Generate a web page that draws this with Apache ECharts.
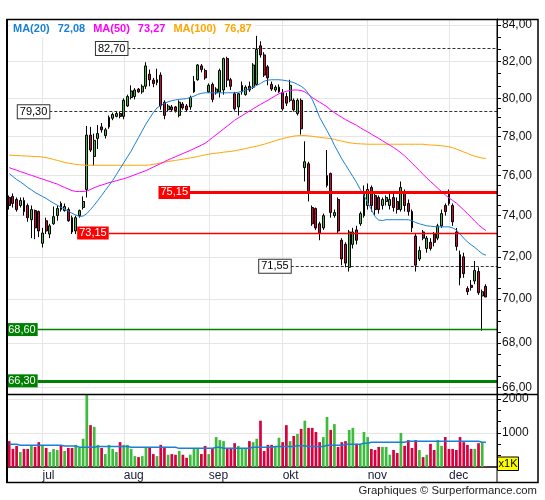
<!DOCTYPE html>
<html>
<head>
<meta charset="utf-8">
<script src="https://cdn.jsdelivr.net/npm/echarts@6/dist/echarts.min.js"></script>
<style>
html,body{margin:0;padding:0;background:#ffffff;}
#chart{width:545px;height:500px;}
</style>
</head>
<body>
<div id="chart"></div>
<script>
// ---------- data ----------
const monthNames = ['jul','aug','sep','okt','nov','dec'];
const monthStartIndex = [9,31,54,74,97,119];
const priceLabelValues = [66,68,70,72,74,76,78,80,82,84];
const priceTickValues = [66,66.5,67,67.5,68,68.5,69,69.5,70,70.5,71,71.5,72,72.5,73,73.5,74,74.5,75,75.5,76,76.5,77,77.5,78,78.5,79,79.5,80,80.667,81.333,82,82.667,83.333,84];
const volumeLabelValues = [1000,2000];
const volumeTickValues = [333,667,1000,1333,1667,2000];
const levelValues = [82.70,79.30,75.15,73.15,71.55,68.60,66.30];

const openPrices = [74.90,74.95,74.80,74.50,74.75,74.50,73.80,74.25,74.20,72.65,
73.75,73.10,73.60,74.00,74.60,74.25,74.30,73.90,73.25,74.00,
74.40,75.30,78.07,76.97,77.90,78.50,78.05,78.50,78.95,79.05,
79.20,79.05,79.60,80.05,80.10,80.50,80.35,80.65,81.30,80.98,
80.85,81.25,79.80,79.40,79.55,79.55,79.10,79.70,79.60,79.55,
80.35,81.00,81.75,81.50,80.35,80.75,80.30,80.35,80.45,82.15,
81.00,80.25,79.55,80.35,80.20,80.65,80.60,80.75,82.85,82.35,
81.70,80.75,80.45,80.35,80.30,80.10,79.90,79.90,79.20,79.90,
76.40,76.60,74.40,74.35,73.60,73.40,75.50,76.10,74.00,74.80,
72.80,72.60,71.50,72.60,73.30,73.60,74.00,74.50,75.40,75.00,
74.90,74.50,74.70,74.50,74.90,74.70,74.30,75.20,74.60,74.20,
73.00,71.90,73.20,72.40,72.70,73.10,72.90,73.50,74.50,75.10,
74.50,73.20,72.10,72.00,70.50,70.65,70.85,71.30,70.15,70.60];
const closePrices = [74.50,74.60,74.30,74.75,74.20,73.90,74.30,73.40,73.25,73.15,
73.25,73.50,73.95,74.35,74.30,74.45,73.75,73.20,73.90,74.25,
74.70,78.07,77.30,77.80,78.15,78.35,78.35,79.00,79.15,79.20,
79.05,79.90,80.10,80.40,80.45,80.35,80.65,81.75,81.00,80.80,
81.00,79.60,79.10,79.60,79.40,79.35,79.80,79.50,79.40,80.05,
80.90,81.80,81.55,81.10,80.70,79.95,80.50,81.50,82.15,80.98,
80.65,79.45,80.25,80.70,80.60,80.45,81.80,82.65,82.35,81.25,
81.10,80.50,80.60,80.60,79.45,79.75,80.70,79.40,79.90,78.40,
76.70,75.20,73.60,73.40,73.15,74.00,76.00,74.15,74.15,73.25,
71.90,71.70,73.20,73.20,72.80,74.10,75.20,75.30,74.50,74.30,
74.30,74.80,74.90,74.80,74.40,74.30,75.40,74.50,74.20,73.40,
71.60,72.30,72.90,72.90,72.40,72.70,73.50,74.10,74.20,74.60,
73.70,72.50,71.00,71.20,70.35,70.55,71.35,70.30,70.35,70.10];
const highPrices = [75.00,75.10,74.90,74.90,74.90,74.60,74.50,74.30,74.25,73.40,
73.90,73.60,74.45,74.50,74.70,74.60,74.40,74.00,74.00,74.30,
74.95,78.55,78.50,78.15,78.60,78.70,78.45,79.10,79.25,79.30,
79.30,80.00,80.20,80.70,80.55,80.55,80.75,81.95,81.55,81.10,
81.60,81.40,79.90,79.70,79.65,79.60,79.90,79.80,79.70,80.15,
81.20,81.85,81.85,81.60,80.80,80.85,80.60,81.60,82.20,82.25,
81.10,80.35,80.30,80.90,80.70,80.90,81.90,83.40,83.10,82.50,
81.80,80.90,80.70,80.75,80.50,80.30,81.00,80.00,80.00,80.00,
77.75,76.70,74.50,74.40,73.70,74.10,77.30,76.15,74.30,74.90,
72.90,72.70,73.30,73.40,73.50,74.20,75.50,75.60,75.50,75.20,
75.00,74.90,75.00,75.10,75.10,74.90,75.70,75.30,74.80,74.30,
73.10,72.50,73.30,73.00,72.90,73.20,73.60,74.30,74.60,75.30,
74.60,73.40,72.30,72.20,70.60,70.90,71.80,71.50,70.45,70.70];
const lowPrices = [74.30,74.40,74.20,74.40,74.00,73.70,72.90,72.85,72.95,72.45,
73.10,72.90,73.55,73.75,74.20,74.20,73.70,73.10,73.10,73.90,
74.30,74.90,77.20,76.50,77.35,78.20,77.90,78.40,78.85,79.00,
78.95,78.90,79.55,79.95,79.95,80.30,80.25,80.50,80.65,80.60,
80.70,79.40,78.90,79.30,79.30,79.25,79.00,79.40,79.30,79.40,
80.30,80.95,81.40,81.00,80.30,79.80,80.20,80.05,80.20,80.60,
80.45,79.35,79.10,80.20,80.15,80.35,80.50,80.70,82.20,81.15,
80.70,80.40,80.35,80.30,79.35,79.60,79.80,79.30,79.10,78.10,
75.70,74.70,73.50,73.30,72.80,73.30,75.40,73.90,73.90,73.10,
71.60,71.50,71.30,72.40,72.60,73.50,73.90,74.30,74.20,74.00,
74.10,74.30,74.50,74.30,74.20,74.10,74.20,74.20,74.00,73.20,
71.30,71.80,72.80,72.20,72.30,72.50,72.80,73.40,74.00,74.50,
73.50,72.30,70.65,71.00,70.20,70.40,70.70,70.20,68.55,70.10];
const volumes = [760,530,620,440,530,530,630,590,730,620,
560,440,530,500,620,470,560,560,650,560,
830,2400,1230,1180,650,560,380,650,530,440,
730,650,650,530,320,290,320,590,590,380,
320,650,590,360,380,360,470,360,270,360,
560,560,380,620,380,560,880,790,760,560,
560,700,620,560,560,760,730,830,1360,470,
650,650,590,860,730,1230,760,910,970,1120,
1360,1150,1150,1030,730,880,1470,1090,1260,590,
730,760,1090,1150,680,650,1030,880,530,500,
590,590,590,360,500,410,1000,620,790,560,
790,500,290,360,680,500,790,620,880,530,
530,500,880,730,650,530,530,700,730,30];
const volumeMA = [668,668,668,637,637,637,637,637,637,637,
637,637,637,637,637,616,616,616,616,580,
580,580,580,580,605,605,605,605,605,605,
605,605,605,580,580,580,580,580,580,580,
580,580,580,580,580,580,548,548,548,548,
548,548,548,548,548,548,580,580,553,553,
553,553,553,553,553,553,580,580,580,580,
580,580,600,600,600,600,600,600,626,626,
626,600,600,600,600,600,637,637,637,637,
637,668,668,668,668,668,696,696,726,726,
726,726,726,726,726,726,726,726,755,755,
755,755,755,755,755,755,755,755,755,755,
755,755,755,755,755,755,755,755,726,726];
const ma20 = [76.10,75.95,75.80,75.68,75.55,75.40,75.28,75.15,75.05,74.95,
74.85,74.73,74.62,74.52,74.42,74.32,74.22,74.12,74.03,73.96,
73.98,74.10,74.30,74.52,74.75,75.00,75.25,75.50,75.75,76.05,
76.35,76.65,76.95,77.25,77.60,77.95,78.30,78.65,78.95,79.25,
79.50,79.62,79.74,79.82,79.88,79.92,79.95,79.97,79.99,80.05,
80.12,80.22,80.27,80.30,80.30,80.30,80.30,80.30,80.30,80.30,
80.30,80.30,80.33,80.38,80.44,80.52,80.60,80.70,80.80,80.92,
80.98,81.00,81.00,81.00,80.98,80.95,80.90,80.85,80.75,80.65,
80.50,80.25,79.95,79.50,79.00,78.65,78.30,77.95,77.55,77.20,
76.85,76.55,76.25,75.95,75.65,75.30,75.00,74.65,74.30,73.95,
73.78,73.76,73.80,73.80,73.80,73.80,73.80,73.80,73.80,73.75,
73.66,73.60,73.55,73.50,73.48,73.46,73.45,73.45,73.45,73.45,
73.40,73.30,73.10,72.90,72.72,72.58,72.45,72.30,72.15,72.08];
const ma50 = [76.40,76.33,76.27,76.20,76.14,76.07,76.01,75.95,75.88,75.82,
75.76,75.70,75.63,75.57,75.48,75.40,75.32,75.24,75.20,75.20,
75.20,75.22,75.30,75.39,75.46,75.52,75.58,75.64,75.69,75.74,
75.79,75.84,75.90,75.97,76.04,76.11,76.18,76.25,76.34,76.43,
76.52,76.61,76.70,76.80,76.88,76.96,77.04,77.12,77.20,77.28,
77.37,77.46,77.55,77.65,77.79,77.94,78.09,78.24,78.39,78.54,
78.69,78.85,78.97,79.09,79.21,79.33,79.45,79.57,79.68,79.79,
79.90,80.02,80.14,80.25,80.32,80.38,80.42,80.45,80.45,80.42,
80.35,80.20,80.05,79.92,79.80,79.68,79.56,79.38,79.25,79.12,
79.00,78.88,78.78,78.68,78.58,78.46,78.34,78.24,78.12,78.01,
77.90,77.78,77.66,77.55,77.43,77.30,77.16,77.00,76.82,76.63,
76.44,76.25,76.06,75.87,75.70,75.53,75.36,75.19,75.03,74.88,
74.75,74.62,74.45,74.28,74.10,73.92,73.73,73.55,73.40,73.27];
const ma100 = [77.04,77.03,77.02,77.01,77.00,76.99,76.98,76.97,76.96,76.94,
76.91,76.87,76.82,76.77,76.72,76.67,76.63,76.60,76.57,76.55,
76.53,76.52,76.52,76.52,76.52,76.52,76.52,76.52,76.52,76.52,
76.52,76.52,76.52,76.52,76.52,76.52,76.52,76.52,76.54,76.57,
76.60,76.64,76.68,76.71,76.74,76.77,76.80,76.83,76.86,76.90,
76.93,76.97,77.01,77.05,77.08,77.12,77.14,77.16,77.19,77.21,
77.23,77.26,77.30,77.34,77.38,77.42,77.46,77.50,77.55,77.60,
77.66,77.72,77.78,77.84,77.89,77.94,77.98,78.02,78.04,78.05,
78.05,78.03,78.01,77.98,77.96,77.93,77.91,77.89,77.85,77.80,
77.76,77.72,77.68,77.65,77.63,77.62,77.61,77.60,77.60,77.60,
77.60,77.60,77.60,77.60,77.60,77.60,77.60,77.60,77.60,77.60,
77.60,77.60,77.60,77.57,77.56,77.55,77.54,77.52,77.50,77.47,
77.42,77.35,77.28,77.20,77.13,77.05,76.98,76.93,76.89,76.87];

// ---------- styling ----------
const FONT = "'Liberation Sans', Arial, sans-serif";
const UP = '#3cbc3c', DOWN = '#d8003f';
const C20 = '#1a7fd6', C50 = '#ff00ff', C100 = '#ffa500';
const GRID = '#e6e6e6';
const X_MIN = -0.6, X_MAX = 132;
const fmt = v => v.toFixed(2).replace('.', ',');

const candleData = openPrices.map((o, i) => [i, o, closePrices[i], lowPrices[i], highPrices[i]]);
const volData = volumes.map((v, i) => ({ value: [i, v], itemStyle: { color: closePrices[i] >= openPrices[i] ? UP : DOWN } }));
const pair = arr => arr.map((v, i) => [i, v]);

const boxLabel = { show: true, position: 'start', distance: 0, fontSize: 11, fontFamily: FONT, lineHeight: 12, padding: [1, 2, 0, 2] };
function level(value, startIdx, lineStyle, labelExtra) {
  return [
    { coord: [startIdx, value], lineStyle: lineStyle, label: Object.assign({}, boxLabel, { formatter: fmt(value) }, labelExtra) },
    { coord: [X_MAX, value] }
  ];
}
const dashed = { color: '#333', width: 1, type: [3, 2] };
const whiteBox = { backgroundColor: '#fff', borderColor: '#333', borderWidth: 1, color: '#000' };
const redBox = { backgroundColor: '#ff0000', color: '#fff' };
const greenBox = { backgroundColor: '#008000', color: '#fff' };

const priceAxisBase = { type: 'log', logBase: 10, gridIndex: 0, min: 65.7, max: 84.34, position: 'right' };

const option = {
  animation: false,
  backgroundColor: '#fff',
  title: {
    left: 10, top: 20, padding: [0, 3, 0, 3], backgroundColor: '#fff',
    text: '{b|MA(20)}{s|}{b|' + fmt(ma20[ma20.length - 1]) + '}{s|}{m|MA(50)}{s|}{m|' + fmt(ma50[ma50.length - 1]) + '}{s|}{o|MA(100)}{s|}{o|' + fmt(ma100[ma100.length - 1]) + '}',
    textStyle: {
      rich: {
        b: { color: C20, fontSize: 11, fontFamily: FONT, lineHeight: 13 },
        m: { color: C50, fontSize: 11, fontFamily: FONT, lineHeight: 13 },
        o: { color: C100, fontSize: 11, fontFamily: FONT, lineHeight: 13 },
        s: { width: 8 }
      }
    }
  },
  grid: [
    { left: 7, top: 19, width: 490, height: 375.5 },
    { left: 7, top: 394.5, width: 490, height: 72.5 }
  ],
  xAxis: [
    { type: 'value', gridIndex: 0, min: X_MIN, max: X_MAX,
      axisLine: { show: false }, axisTick: { show: false, customValues: monthStartIndex },
      axisLabel: { show: false, customValues: monthStartIndex },
      splitLine: { show: true, lineStyle: { color: GRID, width: 1 } } },
    { type: 'value', gridIndex: 1, min: X_MIN, max: X_MAX,
      axisLine: { show: true, onZero: false, lineStyle: { color: '#000', width: 1.5 } },
      axisTick: { show: false, customValues: monthStartIndex },
      axisLabel: { customValues: monthStartIndex, formatter: v => monthNames[monthStartIndex.indexOf(v)],
        align: 'left', margin: 3, fontSize: 12, fontFamily: FONT, color: '#1a1a3a' },
      splitLine: { show: true, lineStyle: { color: GRID, width: 1 } } }
  ],
  yAxis: [
    // price gridlines (every 2)
    Object.assign({}, priceAxisBase, {
      axisLine: { show: false },
      axisTick: { show: false, customValues: priceLabelValues },
      axisLabel: { show: false, customValues: priceLabelValues },
      splitLine: { show: true, lineStyle: { color: GRID, width: 1 } }
    }),
    // price labels + ticks
    Object.assign({}, priceAxisBase, {
      axisLine: { show: true, lineStyle: { color: '#000', width: 1 } },
      axisTick: { show: true, customValues: priceTickValues, length: 4, lineStyle: { color: '#000', width: 1 } },
      axisLabel: { customValues: priceLabelValues, formatter: v => fmt(v), margin: 5, fontSize: 12, fontFamily: FONT, color: '#111' },
      splitLine: { show: false }
    }),
    // volume gridlines
    { type: 'value', gridIndex: 1, min: 0, max: 2130, position: 'right',
      axisLine: { show: false },
      axisTick: { show: false, customValues: volumeLabelValues },
      axisLabel: { show: false, customValues: volumeLabelValues },
      splitLine: { show: true, lineStyle: { color: GRID, width: 1 } } },
    // volume labels + ticks
    { type: 'value', gridIndex: 1, min: 0, max: 2130, position: 'right',
      axisLine: { show: true, lineStyle: { color: '#000', width: 1 } },
      axisTick: { show: true, customValues: volumeTickValues, length: 4, lineStyle: { color: '#000' } },
      axisLabel: { customValues: volumeLabelValues, formatter: v => String(v), margin: 5, fontSize: 12, fontFamily: FONT, color: '#111' },
      splitLine: { show: false } }
  ],
  series: [
    { type: 'candlestick', xAxisIndex: 0, yAxisIndex: 1, data: candleData, barWidth: 2.4,
      itemStyle: { color: UP, color0: DOWN, borderColor: '#000', borderColor0: '#000', borderWidth: 1 },
      markLine: {
        silent: true, symbol: ['none', 'none'], animation: false,
        data: [
          level(levelValues[0], 32.0, dashed, whiteBox),
          level(levelValues[1], 10.85, dashed, whiteBox),
          level(levelValues[2], 48.93, { color: '#ff0000', width: 3, type: 'solid' }, redBox),
          level(levelValues[3], 26.92, { color: '#ff0000', width: 1.3, type: 'solid' }, redBox),
          level(levelValues[4], 76.18, dashed, whiteBox),
          level(levelValues[5], 7.7, { color: '#008000', width: 1.3, type: 'solid' }, greenBox),
          level(levelValues[6], 7.7, { color: '#008000', width: 3, type: 'solid' }, greenBox)
        ]
      }
    },
    { type: 'line', name: 'MA(100)', xAxisIndex: 0, yAxisIndex: 1, data: pair(ma100), showSymbol: false, lineStyle: { color: C100, width: 1 }, z: 3 },
    { type: 'line', name: 'MA(50)', xAxisIndex: 0, yAxisIndex: 1, data: pair(ma50), showSymbol: false, lineStyle: { color: C50, width: 1 }, z: 3 },
    { type: 'line', name: 'MA(20)', xAxisIndex: 0, yAxisIndex: 1, data: pair(ma20), showSymbol: false, lineStyle: { color: C20, width: 1 }, z: 3 },
    { type: 'bar', xAxisIndex: 1, yAxisIndex: 3, data: volData, barWidth: 2.7 },
    { type: 'line', xAxisIndex: 1, yAxisIndex: 3, data: pair(volumeMA), showSymbol: false, lineStyle: { color: C20, width: 1.5 }, z: 3 }
  ],
  graphic: [
    { type: 'rect', shape: { x: 7, y: 19.5, width: 531, height: 463 }, style: { fill: null, stroke: '#000', lineWidth: 1.5 }, z: 100 },
    { type: 'line', shape: { x1: 7, y1: 19, x2: 7, y2: 483 }, style: { stroke: '#000', lineWidth: 2 }, z: 100 },
    { type: 'line', shape: { x1: 7, y1: 394.5, x2: 538, y2: 394.5 }, style: { stroke: '#000', lineWidth: 1.5 }, z: 100 },
    { type: 'line', shape: { x1: 497, y1: 19, x2: 497, y2: 482 }, style: { stroke: '#000', lineWidth: 1 }, z: 100 },
    { type: 'rect', shape: { x: 497.5, y: 457, width: 21, height: 13.5 }, style: { fill: '#ffff00', stroke: '#000', lineWidth: 1 }, z: 101 },
    { type: 'text', x: 508, y: 464, style: { text: 'x1K', fill: '#000', font: '11px ' + FONT, textAlign: 'center', textVerticalAlign: 'middle' }, z: 102 },
    { type: 'text', x: 537, y: 491, style: { text: 'Graphiques © Surperformance.com', fill: '#222', font: '11.3px ' + FONT, textAlign: 'right', textVerticalAlign: 'middle' }, z: 102 }
  ]
};

const chart = echarts.init(document.getElementById('chart'), null, { renderer: 'canvas' });
chart.setOption(option);
</script>
</body>
</html>
